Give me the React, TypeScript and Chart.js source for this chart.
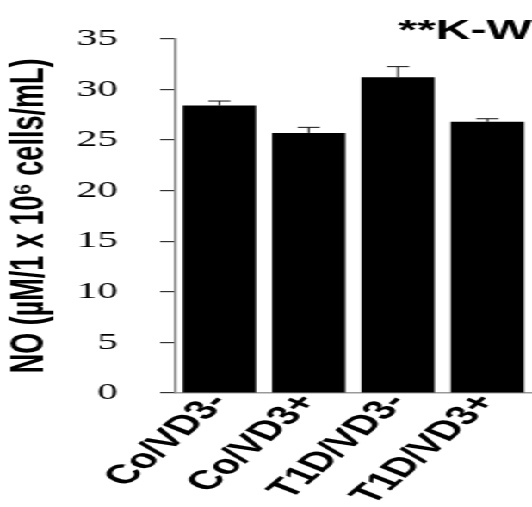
import { useEffect, useRef } from "react";
import { Chart, registerables } from "chart.js";

Chart.register(...registerables);

// ---- data ----
const categories = ["Co/VD3-", "Co/VD3+", "T1D/VD3-", "T1D/VD3+"];
const noValues = [28.4, 25.7, 31.2, 26.8];
const noErrors = [0.45, 0.55, 1.05, 0.3];
const yTickValues = [0, 5, 10, 15, 20, 25, 30, 35];
const chartTitle = "**K-W";
const yAxisTitle = "NO (µM/1 x 10⁶ cells/mL)";

// ---- presentation ----
const CANVAS_W = 309;
const CANVAS_H = 507;
const STRETCH = 532 / CANVAS_W; // the reference figure is stretched horizontally

const errorBarPlugin = {
  id: "errorBars",
  afterDatasetsDraw(chart: any) {
    const ctx = chart.ctx;
    const yScale = chart.scales.y;
    chart.data.datasets.forEach((ds: any, di: number) => {
      const errs: number[] | undefined = ds.errors;
      if (!errs) return;
      const meta = chart.getDatasetMeta(di);
      meta.data.forEach((bar: any, i: number) => {
        const v = ds.data[i] as number;
        const e = errs[i];
        const yTop = yScale.getPixelForValue(v + e);
        const yBase = yScale.getPixelForValue(v);
        const half = 6.4;
        ctx.save();
        ctx.strokeStyle = "#111";
        ctx.lineWidth = 1;
        ctx.beginPath();
        ctx.moveTo(bar.x, yBase);
        ctx.lineTo(bar.x, yTop);
        ctx.moveTo(bar.x - half, yTop);
        ctx.lineTo(bar.x + half, yTop);
        ctx.stroke();
        ctx.restore();
      });
    });
  },
};

export default function App() {
  const canvasRef = useRef<HTMLCanvasElement | null>(null);

  useEffect(() => {
    if (!canvasRef.current) return;
    const chart = new Chart(canvasRef.current, {
      type: "bar",
      data: {
        labels: categories,
        datasets: [
          {
            label: "NO",
            data: noValues,
            errors: noErrors,
            backgroundColor: "#000000",
            borderWidth: 0,
            barPercentage: 0.82,
            categoryPercentage: 1.0,
          } as any,
        ],
      },
      options: {
        animation: false,
        responsive: false,
        maintainAspectRatio: false,
        layout: { padding: 0 },
        plugins: {
          legend: { display: false },
          tooltip: { enabled: false },
          title: {
            display: true,
            text: chartTitle,
            align: "end",
            color: "#000",
            font: { family: "'Liberation Sans', Arial, sans-serif", size: 28, weight: "bold", lineHeight: 1.2 },
            padding: { top: 14, bottom: -9 },
          },
        },
        scales: {
          x: {
            type: "category",
            grid: { display: false, drawTicks: false },
            border: { display: true, color: "#9a9a9a", width: 1.5 },
            ticks: {
              minRotation: 55,
              maxRotation: 55,
              autoSkip: false,
              padding: -5,
              color: "#000",
              font: { family: "'Liberation Sans', Arial, sans-serif", size: 27, weight: "bold" },
            },
            afterFit: (scale: any) => {
              scale.height = 114;
            },
          },
          y: {
            type: "linear",
            min: 0,
            max: 35,
            afterBuildTicks: (scale: any) => {
              scale.ticks = yTickValues.map((v) => ({ value: v }));
            },
            grid: {
              display: true,
              drawOnChartArea: false,
              drawTicks: true,
              tickLength: 8.5,
              color: "#333",
              lineWidth: 1.2,
            },
            border: { display: true, color: "#888", width: 1.5 },
            ticks: {
              padding: 24.4,
              color: "#000",
              font: { family: "'Liberation Serif', 'Times New Roman', serif", size: 24 },
            },
            title: {
              display: true,
              text: yAxisTitle,
              color: "#000",
              font: { family: "'Liberation Sans', Arial, sans-serif", size: 27, weight: "bold", lineHeight: 1.2 },
              padding: { top: 1, bottom: 0 },
            },
            afterFit: (scale: any) => {
              scale.width = 101.5;
            },
          },
        },
      },
      plugins: [errorBarPlugin],
    });
    return () => chart.destroy();
  }, []);

  return (
    <div
      style={{
        position: "absolute",
        left: 0,
        top: 0,
        width: CANVAS_W,
        height: CANVAS_H,
        transform: `scaleX(${STRETCH})`,
        transformOrigin: "0 0",
        background: "#fff",
      }}
    >
      <canvas ref={canvasRef} width={CANVAS_W} height={CANVAS_H} style={{ display: "block" }} />
    </div>
  );
}
